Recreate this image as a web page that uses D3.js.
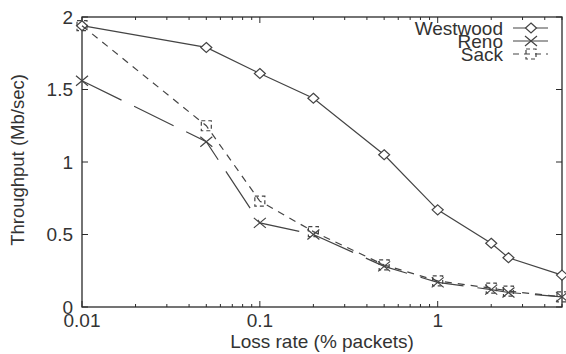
<!DOCTYPE html>
<html>
<head>
<meta charset="utf-8">
<script src="https://cdn.jsdelivr.net/npm/d3@7"></script>
<style>
  body { margin: 0; background: #fff; }
  svg text { font-family: "Liberation Sans", Arial, sans-serif; fill: #333; }
</style>
</head>
<body>
<div id="chart"></div>
<script>
// loss rate (% packets) on a log axis
const lossRates = [0.01, 0.05, 0.1, 0.2, 0.5, 1, 2, 2.5, 5];
const westwood = [1.94, 1.79, 1.61, 1.44, 1.05, 0.67, 0.44, 0.34, 0.22];
const reno     = [1.56, 1.14, 0.58, 0.50, 0.28, 0.17, 0.12, 0.10, 0.07];
const sack     = [1.94, 1.25, 0.73, 0.52, 0.29, 0.18, 0.13, 0.11, 0.07];
const xTicks = [0.01, 0.1, 1];
const yTicks = [0, 0.5, 1, 1.5, 2];
const seriesNames = ["Westwood", "Reno", "Sack"];

const width = 566, height = 354;
const margin = { top: 17, right: 4, bottom: 47, left: 82 };

const svg = d3.select("#chart").append("svg")
  .attr("width", width)
  .attr("height", height);

const x = d3.scaleLog()
  .domain([0.01, 5])
  .range([margin.left, width - margin.right]);

const y = d3.scaleLinear()
  .domain([0, 2])
  .range([height - margin.bottom, margin.top]);

const ink = "#2a2a2a";
const lineCol = "#444";

// frame
svg.append("rect")
  .attr("x", x.range()[0]).attr("y", y.range()[1])
  .attr("width", x.range()[1] - x.range()[0])
  .attr("height", y.range()[0] - y.range()[1])
  .attr("fill", "none").attr("stroke", ink).attr("stroke-width", 1.3);

// x ticks (inward, bottom and top)
const minor = x.ticks().filter(t => xTicks.indexOf(t) < 0);
const x0 = y.range()[0], x1 = y.range()[1];
function xTickMarks(vals, len) {
  vals.forEach(v => {
    svg.append("line").attr("x1", x(v)).attr("x2", x(v))
      .attr("y1", x0).attr("y2", x0 - len).attr("stroke", ink);
    svg.append("line").attr("x1", x(v)).attr("x2", x(v))
      .attr("y1", x1).attr("y2", x1 + len).attr("stroke", ink);
  });
}
xTickMarks(xTicks, 6);
xTickMarks(minor, 3);

svg.selectAll("text.xtick")
  .data(xTicks)
  .enter().append("text")
  .attr("class", "xtick")
  .attr("x", d => x(d))
  .attr("y", height - margin.bottom + 20)
  .attr("text-anchor", "middle")
  .style("font-size", "19px")
  .text(d => d);

// y ticks (inward, left and right)
yTicks.forEach(v => {
  svg.append("line").attr("x1", x.range()[0]).attr("x2", x.range()[0] + 6)
    .attr("y1", y(v)).attr("y2", y(v)).attr("stroke", ink);
  svg.append("line").attr("x1", x.range()[1]).attr("x2", x.range()[1] - 6)
    .attr("y1", y(v)).attr("y2", y(v)).attr("stroke", ink);
});

svg.selectAll("text.ytick")
  .data(yTicks)
  .enter().append("text")
  .attr("class", "ytick")
  .attr("x", margin.left - 9)
  .attr("y", d => y(d))
  .attr("dy", "0.36em")
  .attr("text-anchor", "end")
  .style("font-size", "19px")
  .text(d => d);

// axis titles
svg.append("text")
  .attr("x", (x.range()[0] + x.range()[1]) / 2)
  .attr("y", height - 6)
  .attr("text-anchor", "middle")
  .style("font-size", "19px")
  .text("Loss rate (% packets)");

svg.append("text")
  .attr("transform", "translate(24," + 160 + ") rotate(-90)")
  .attr("text-anchor", "middle")
  .style("font-size", "18.5px")
  .text("Throughput (Mb/sec)");

// series
const styles = [
  { data: westwood, dash: null, marker: "diamond" },
  { data: reno, dash: "44,14", marker: "cross" },
  { data: sack, dash: "7,6", marker: "square" }
];

const line = d3.line()
  .x(d => x(d[0]))
  .y(d => y(d[1]));

function drawMarker(g, kind, cx, cy, dash) {
  if (kind === "diamond") {
    g.append("path")
      .attr("d", `M${cx},${cy - 5}L${cx + 5.5},${cy}L${cx},${cy + 5}L${cx - 5.5},${cy}Z`)
      .attr("fill", "#fff").attr("stroke", lineCol).attr("stroke-width", 1.2);
  } else if (kind === "cross") {
    g.append("path")
      .attr("d", `M${cx - 6},${cy - 5}L${cx + 6},${cy + 5}M${cx - 6},${cy + 5}L${cx + 6},${cy - 5}`)
      .attr("fill", "none").attr("stroke", lineCol).attr("stroke-width", 1.2);
  } else {
    g.append("rect")
      .attr("x", cx - 5).attr("y", cy - 5).attr("width", 10).attr("height", 10)
      .attr("fill", "none").attr("stroke", lineCol).attr("stroke-width", 1.2)
      .attr("stroke-dasharray", "4,3");
  }
}

styles.forEach(s => {
  const pts = lossRates.map((r, i) => [r, s.data[i]]);
  const g = svg.append("g");
  g.append("path")
    .datum(pts)
    .attr("d", line)
    .attr("fill", "none")
    .attr("stroke", lineCol)
    .attr("stroke-width", 1.2)
    .attr("stroke-dasharray", s.dash);
  pts.forEach(p => drawMarker(g, s.marker, x(p[0]), y(p[1]), s.dash));
});

// legend
const legX = 503;
seriesNames.forEach((name, i) => {
  const ly = 28 + i * 13;
  svg.append("text")
    .attr("x", legX).attr("y", ly)
    .attr("dy", "0.36em")
    .attr("text-anchor", "end")
    .style("font-size", "19px")
    .text(name);
  const g = svg.append("g");
  g.append("line")
    .attr("x1", legX + 10).attr("x2", legX + 45)
    .attr("y1", ly).attr("y2", ly)
    .attr("stroke", lineCol).attr("stroke-width", 1.2)
    .attr("stroke-dasharray", i === 2 ? "6,5" : null);
  drawMarker(g, styles[i].marker, legX + 28, ly, styles[i].dash);
});
</script>
</body>
</html>
